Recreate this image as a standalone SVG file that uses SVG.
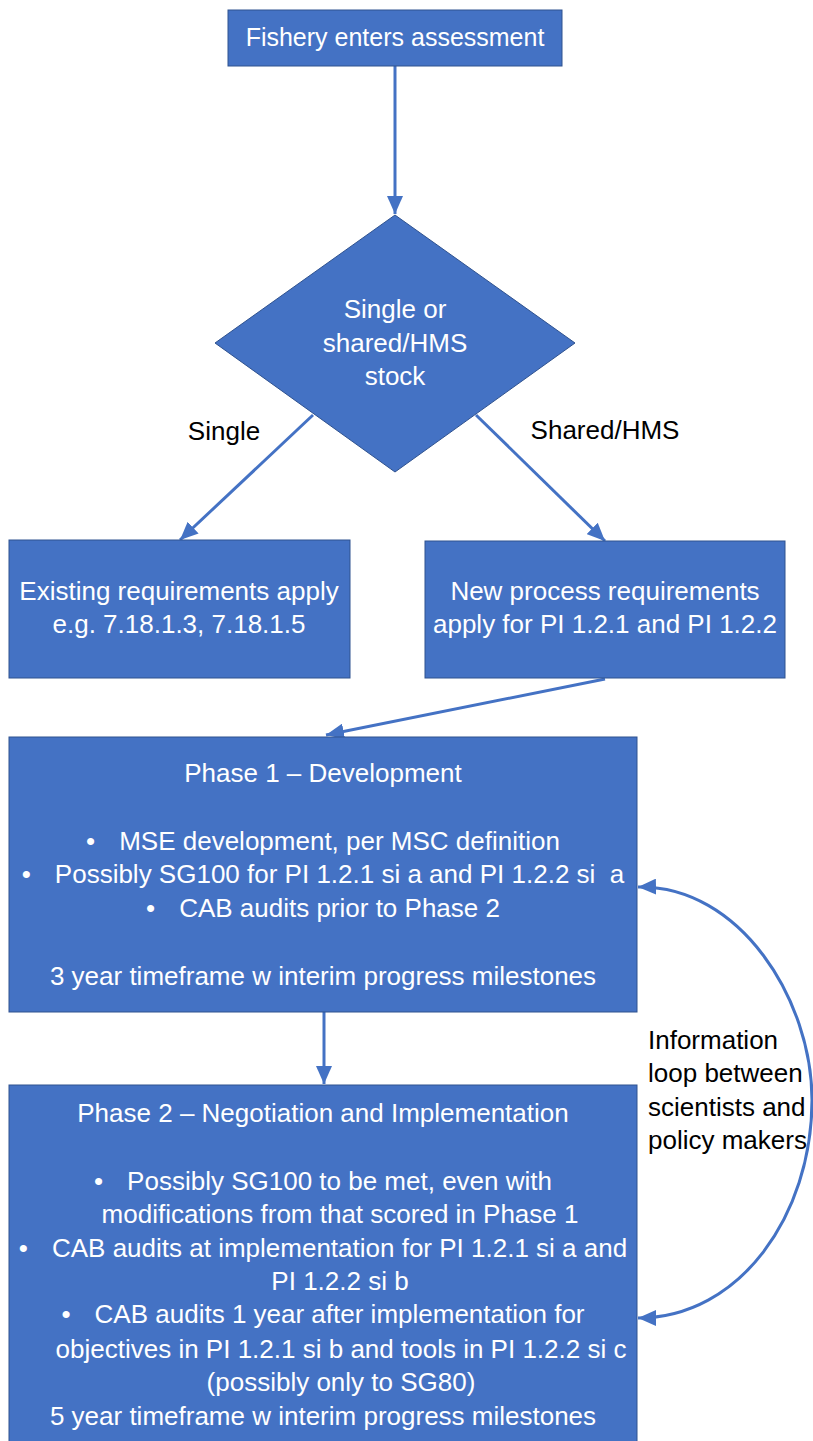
<svg xmlns="http://www.w3.org/2000/svg" width="813" height="1441" viewBox="0 0 813 1441">
<style>
.box{fill:#4472C4;stroke:#2F528F;stroke-width:1}
.t{font-family:"Liberation Sans",Arial,sans-serif;font-size:26px;fill:#ffffff;text-anchor:middle}
.lbl{font-family:"Liberation Sans",Arial,sans-serif;font-size:26px;fill:#000000}
.c{fill:none;stroke:#4472C4;stroke-width:3}
</style>
<defs>
<marker id="ah" viewBox="0 0 18 16" refX="18" refY="8" markerWidth="18" markerHeight="16" markerUnits="userSpaceOnUse" orient="auto-start-reverse">
<path d="M0,0 L18,8 L0,16 z" fill="#4472C4"/>
</marker>
</defs>
<rect width="813" height="1441" fill="#ffffff"/>

<g id="connectors">
<line class="c" x1="395" y1="66" x2="395" y2="214" marker-end="url(#ah)"/>
<line class="c" x1="313" y1="415" x2="180" y2="540" marker-end="url(#ah)"/>
<line class="c" x1="476" y1="415" x2="605" y2="541" marker-end="url(#ah)"/>
<line class="c" x1="605" y1="679" x2="326" y2="735" marker-end="url(#ah)"/>
<line class="c" x1="324" y1="1012" x2="324" y2="1084" marker-end="url(#ah)"/>
<path class="c" d="M638,887 C740,885 812,1000 812,1100 C812,1215 740,1318 638,1318" marker-start="url(#ah)" marker-end="url(#ah)"/>
<text class="lbl" x="224" y="440" text-anchor="middle">Single</text>
<text class="lbl" x="605" y="439" text-anchor="middle">Shared/HMS</text>
<text class="lbl" x="648" y="1049">Information</text>
<text class="lbl" x="648" y="1082">loop between</text>
<text class="lbl" x="648" y="1116">scientists and</text>
<text class="lbl" x="648" y="1149">policy makers</text>
</g>

<g id="start">
<rect class="box" x="228" y="10" width="334" height="56"/>
<text class="t" x="395" y="46" style="font-size:25px">Fishery enters assessment</text>
</g>

<g id="decision">
<polygon class="box" points="395,215 575,343 395,472 215,343"/>
<text class="t" x="395" y="318">Single or</text>
<text class="t" x="395" y="352">shared/HMS</text>
<text class="t" x="395" y="385">stock</text>
</g>

<g id="existing">
<rect class="box" x="9" y="540" width="341" height="138"/>
<text class="t" x="179" y="600">Existing requirements apply</text>
<text class="t" x="179" y="633">e.g. 7.18.1.3, 7.18.1.5</text>
</g>

<g id="newprocess">
<rect class="box" x="425" y="541" width="360" height="137"/>
<text class="t" x="605" y="600">New process requirements</text>
<text class="t" x="605" y="633">apply for PI 1.2.1 and PI 1.2.2</text>
</g>

<g id="phase1">
<rect class="box" x="9" y="737" width="628" height="275"/>
<text class="t" x="323" y="782">Phase 1 – Development</text>
<text class="t" x="323" y="850"><tspan>•</tspan><tspan dx="24">MSE development, per MSC definition</tspan></text>
<text class="t" x="323" y="883" xml:space="preserve"><tspan>•</tspan><tspan dx="24">Possibly SG100 for PI 1.2.1 si a and PI 1.2.2 si  a</tspan></text>
<text class="t" x="323" y="917"><tspan>•</tspan><tspan dx="24">CAB audits prior to Phase 2</tspan></text>
<text class="t" x="323" y="985">3 year timeframe w interim progress milestones</text>
</g>

<g id="phase2">
<rect class="box" x="9" y="1085" width="628" height="365"/>
<text class="t" x="323" y="1122">Phase 2 – Negotiation and Implementation</text>
<text class="t" x="323" y="1190"><tspan>•</tspan><tspan dx="24">Possibly SG100 to be met, even with</tspan></text>
<text class="t" x="340" y="1223">modifications from that scored in Phase 1</text>
<text class="t" x="323" y="1257"><tspan>•</tspan><tspan dx="24">CAB audits at implementation for PI 1.2.1 si a and</tspan></text>
<text class="t" x="340" y="1290">PI 1.2.2 si b</text>
<text class="t" x="323" y="1323"><tspan>•</tspan><tspan dx="24">CAB audits 1 year after implementation for</tspan></text>
<text class="t" x="341" y="1358">objectives in PI 1.2.1 si b and tools in PI 1.2.2 si c</text>
<text class="t" x="341" y="1391">(possibly only to SG80)</text>
<text class="t" x="323" y="1425">5 year timeframe w interim progress milestones</text>
</g>
</svg>
